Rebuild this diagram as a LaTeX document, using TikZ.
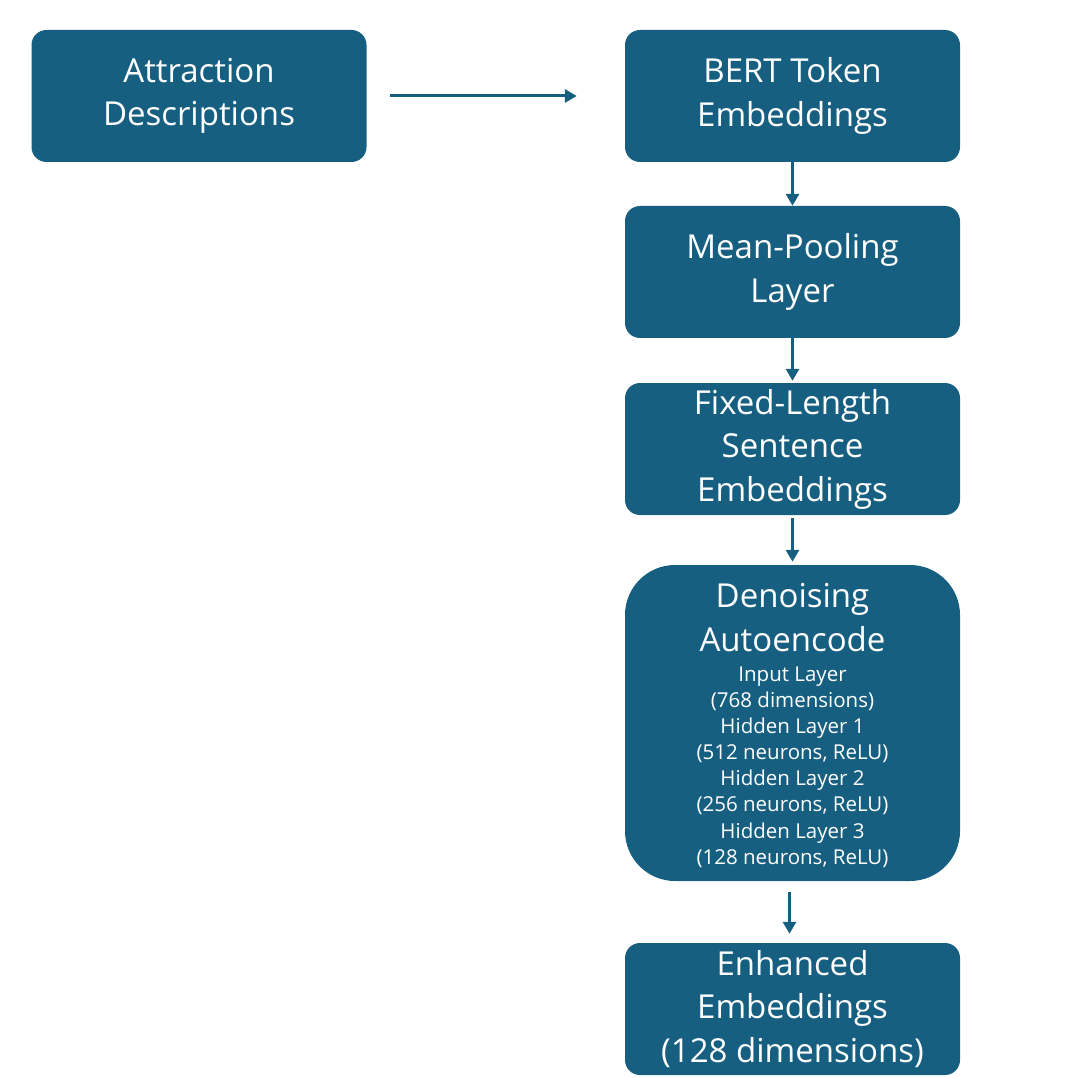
\documentclass[tikz,border=0pt]{standalone}
\usepackage{fontspec}
\setmainfont{Open Sans}
\usetikzlibrary{arrows.meta}
\definecolor{boxblue}{RGB}{22,95,128}
\tikzset{
  stagebox/.style={fill=boxblue, text=white, rounded corners=15pt, minimum width=335pt, minimum height=132pt, inner sep=0pt, align=center, font=\fontsize{33}{43.5}\selectfont},
  boxtext/.style={text=white, inner sep=0pt, align=center},
  flow/.style={draw=boxblue, line width=3pt, -{Triangle[length=12pt,width=13pt]}},
}
\begin{document}
\begin{tikzpicture}[x=1pt,y=-1pt]
\useasboundingbox (0,0) rectangle (1080,1078);
\node[stagebox] (attr) at (199,96) {Attraction\\Descriptions};
\node[stagebox] (bert) at (792.5,96) {BERT Token\\Embeddings};
\node[stagebox] (pool) at (792.5,272) {Mean-Pooling\\Layer};
\node[stagebox] (fixed) at (792.5,449) {Fixed-Length\\Sentence\\Embeddings};
\node[stagebox, rounded corners=50pt, minimum height=316pt] (dae) at (792.5,723) {};
\node[boxtext, font=\fontsize{33}{44}\selectfont] (daetitle) at (792.5,618) {Denoising\\Autoencode};
\node[boxtext, font=\fontsize{20.5}{26.2}\selectfont] (daedetail) at (792.5,767) {Input Layer\\(768 dimensions)\\Hidden Layer 1\\(512 neurons, ReLU)\\Hidden Layer 2\\(256 neurons, ReLU)\\Hidden Layer 3\\(128 neurons, ReLU)};
\node[stagebox] (enh) at (792.5,1009) {Enhanced\\Embeddings\\(128 dimensions)};
\draw[flow, shorten <=23pt, shorten >=48pt] (attr.east) -- (bert.west);
\draw[flow] (bert.south) -- (pool.north);
\draw[flow, shorten >=2pt] (pool.south) -- (fixed.north);
\draw[flow, shorten <=3pt, shorten >=3pt] (fixed.south) -- (dae.north);
\draw[flow, shorten <=11pt, shorten >=9pt] ([xshift=-3pt]dae.south) -- ([xshift=-3pt]enh.north);
\end{tikzpicture}
\end{document}
